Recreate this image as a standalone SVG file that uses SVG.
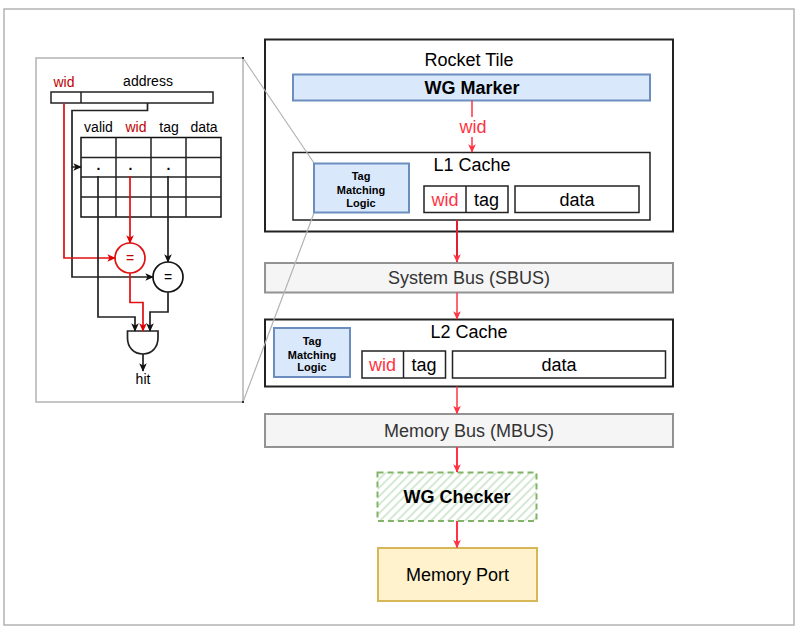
<svg xmlns="http://www.w3.org/2000/svg" width="798" height="627" viewBox="0 0 798 627">
<defs>
<marker id="ab" viewBox="0 0 10 10" refX="9" refY="5" markerWidth="8.500" markerHeight="8.500" markerUnits="userSpaceOnUse" orient="auto"><path d="M0,0.500L10,5L0,9.500L2.500,5Z" fill="#111"/></marker>
<marker id="ar" viewBox="0 0 10 10" refX="9" refY="5" markerWidth="8.500" markerHeight="8.500" markerUnits="userSpaceOnUse" orient="auto"><path d="M0,0.500L10,5L0,9.500L2.500,5Z" fill="#e00000"/></marker>
<marker id="ap" viewBox="0 0 10 10" refX="9" refY="5" markerWidth="8.500" markerHeight="8.500" markerUnits="userSpaceOnUse" orient="auto"><path d="M0,0.500L10,5L0,9.500L2.500,5Z" fill="#ff3344"/></marker>
<pattern id="hatch" width="6" height="6" patternUnits="userSpaceOnUse" patternTransform="rotate(-45)"><rect width="6" height="6" fill="#fff"/><rect width="6" height="2" fill="#d5e8d4"/></pattern>
</defs>
<style>
text{font-family:"Liberation Sans",Arial,sans-serif;text-anchor:middle;fill:#000}
.box{fill:#fff;stroke:#222;stroke-width:1.500}
.blue{fill:#dae8fc;stroke:#6c8ebf;stroke-width:2}
.bus{fill:#f5f5f5;stroke:#666;stroke-width:2;stroke-opacity:.7}
.thin{fill:none;stroke:#222;stroke-width:1.500}
.k{fill:none;stroke:#222;stroke-width:1.700;marker-end:url(#ab)}
.r{fill:none;stroke:#e01010;stroke-width:1.700;marker-end:url(#ar)}
.p{fill:none;stroke:#ff3344;stroke-width:1.500;marker-end:url(#ap)}
.gl{fill:none;stroke:#b3b3b3;stroke-width:1.200}
.t18{font-size:18px}.t14{font-size:14px}.t11{font-size:11px;font-weight:bold}
.red{fill:#ff3344}.dr{fill:#c00000}
</style>
<rect id="frame" x="4" y="9" width="790" height="616" fill="#fff" stroke="#b3b3b3" stroke-width="1.500"/>
<g id="zoom-panel">
<rect x="36" y="58" width="207" height="344" fill="#fff" stroke="#b3b3b3" stroke-width="1.500"/>
<text class="t14 dr" x="64" y="86.500">wid</text>
<text class="t14" x="148" y="86">address</text>
<rect x="51" y="92" width="162" height="11" fill="#fff" stroke="#222" stroke-width="1.500"/>
<path class="thin" d="M81,92V103"/>
<text class="t14" x="98.500" y="131.500">valid</text>
<text class="t14 dr" x="136" y="131.500">wid</text>
<text class="t14" x="169" y="131.500">tag</text>
<text class="t14" x="204" y="131.500">data</text>
<rect x="81" y="137.500" width="140" height="79.500" fill="#fff" stroke="#111" stroke-width="1.500"/>
<path class="thin" d="M116,137.500V217M151,137.500V217M186,137.500V217M81,157.500H221M81,177H221M81,197H221"/>
<text class="t14" style="font-weight:bold" x="98.500" y="170">.</text>
<text class="t14" style="font-weight:bold" x="130.500" y="170">.</text>
<text class="t14" style="font-weight:bold" x="168.500" y="170">.</text>
<circle cx="130" cy="258" r="15" fill="#fff" stroke="#e01010" stroke-width="1.700"/>
<text class="t14 dr" x="130" y="262.500">=</text>
<circle cx="168" cy="277" r="15" fill="#fff" stroke="#111" stroke-width="1.700"/>
<text class="t14" x="168" y="281.500">=</text>
<path d="M127.500,331H158V338C158,347 152,354 143,354C133.500,354 127.500,347 127.500,338Z" fill="#fff" stroke="#222" stroke-width="1.700"/>
<text class="t14" x="143" y="384">hit</text>
</g>
<g id="rocket-tile">
<rect class="box" style="stroke-width:2" x="265" y="39.500" width="408" height="192"/>
<text class="t18" x="469" y="66">Rocket Tile</text>
</g>
<g id="wg-marker">
<rect class="blue" x="293" y="74.500" width="357" height="26"/>
<text class="t18" x="472" y="93.500" style="font-weight:bold">WG Marker</text>
</g>
<g id="l1-cache">
<rect class="box" x="293" y="152.500" width="357" height="67.500"/>
<text class="t18" x="472" y="171">L1 Cache</text>
<rect class="box" x="424" y="186" width="84" height="26.500"/>
<path class="thin" d="M466,186V212.500"/>
<text class="t18 red" x="445" y="206">wid</text>
<text class="t18" x="486.500" y="206">tag</text>
<rect class="box" x="515" y="186" width="124" height="26.500"/>
<text class="t18" x="577" y="206">data</text>
</g>
<g id="system-bus">
<rect class="bus" x="265" y="263" width="408" height="29.500"/>
<text class="t18" style="fill:#333" x="469" y="284">System Bus (SBUS)</text>
</g>
<g id="l2-cache">
<rect class="box" style="stroke-width:2" x="265" y="319.500" width="408" height="67"/>
<text class="t18" x="469" y="338">L2 Cache</text>
<rect class="blue" x="274" y="328" width="76" height="49"/>
<text class="t11" x="312" y="345">Tag</text>
<text class="t11" x="312" y="359">Matching</text>
<text class="t11" x="312" y="371">Logic</text>
<rect class="box" x="362" y="351" width="83.500" height="27"/>
<path class="thin" d="M403.500,351V378"/>
<text class="t18 red" x="382.500" y="371">wid</text>
<text class="t18" x="424" y="371">tag</text>
<rect class="box" x="452.500" y="351" width="213" height="27"/>
<text class="t18" x="559" y="371">data</text>
</g>
<g id="memory-bus">
<rect class="bus" x="265" y="414" width="408" height="33"/>
<text class="t18" style="fill:#333" x="469" y="437">Memory Bus (MBUS)</text>
</g>
<g id="wg-checker">
<rect x="377.500" y="472.500" width="159" height="48.500" fill="url(#hatch)" stroke="#82b366" stroke-width="2" stroke-dasharray="6 4"/>
<text class="t18" x="457" y="503" style="font-weight:bold">WG Checker</text>
</g>
<g id="memory-port">
<rect x="378" y="548" width="159" height="53" fill="#fff2cc" stroke="#d6b656" stroke-width="2"/>
<text class="t18" x="457.500" y="581">Memory Port</text>
</g>
<g id="connectors">
<path class="gl" d="M243,58L314,163M243,402L314,213"/>
<path d="M242,57h2v2h-2zM242,401h2v2h-2z" fill="#333"/>
<path class="k" d="M147.500,103V110.500H72V167H81"/>
<path class="k" d="M72,167V277H153"/>
<path class="r" d="M64,103V258H115"/>
<path class="r" d="M130,176V243"/>
<path class="k" d="M168,176V262"/>
<path class="k" d="M98,176V317H135V331"/>
<path class="r" d="M130,273V302.500H143V331"/>
<path class="k" d="M168,292V312H150V331"/>
<path class="k" d="M143,354V371"/>
<path class="p" d="M472,100.500V152"/>
<rect x="456" y="117" width="34" height="20" fill="#fff"/>
<text class="t18 red" x="473" y="133">wid</text>
<path class="p" style="stroke:#e02030;stroke-width:2" d="M457,220V262"/>
<path class="p" d="M457,292.500V319"/>
<path class="p" d="M457,386.500V413.500"/>
<path class="p" style="stroke-width:2" d="M457,447V472"/>
<path class="p" style="stroke-width:2" d="M457,521V547.500"/>
</g>
<g id="l1-tag-logic">
<rect class="blue" x="314" y="163.500" width="95" height="49"/>
<text class="t11" x="361" y="180">Tag</text>
<text class="t11" x="361" y="194">Matching</text>
<text class="t11" x="361" y="207">Logic</text>
</g>
</svg>
